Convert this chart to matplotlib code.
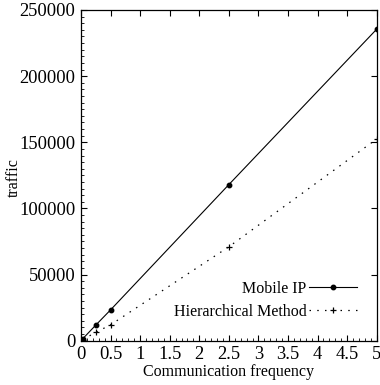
import matplotlib
matplotlib.use("Agg")
import matplotlib.pyplot as plt
from matplotlib.ticker import MultipleLocator

plt.rcParams['font.family'] = ['Liberation Serif', 'DejaVu Serif']

freq = [0.03, 0.25, 0.5, 2.5, 5]
mobile_ip = [1500, 11800, 23300, 118000, 235500]
hierarchical = [900, 6300, 12000, 71000, 152500]

x_ticks = [0, 0.5, 1, 1.5, 2, 2.5, 3, 3.5, 4, 4.5, 5]
x_ticklabels = ['0', '0.5', '1', '1.5', '2', '2.5', '3', '3.5', '4', '4.5', '5']
y_ticks = [0, 50000, 100000, 150000, 200000, 250000]

fs_tick = 13.3
fs_lab = 11.5

fig = plt.figure(figsize=(3.8, 3.85), dpi=100)
ax = fig.add_axes([81/380, 1-340.7/385, (376.7-81)/380, (340.7-10)/385])

ax.plot(freq, mobile_ip, color='black', lw=0.8, marker='o', ms=3.2,
        label='Mobile IP')
ax.plot(freq, hierarchical, color='black', lw=0.9, marker='+', ms=4,
        mew=0.9, linestyle=(0, (1.2, 5.0)), label='Hierarchical Method')

ax.set_xlim(0, 5)
ax.set_ylim(0, 250000)
ax.set_xticks(x_ticks)
ax.set_xticklabels(x_ticklabels)
ax.set_yticks(y_ticks)
ax.xaxis.set_minor_locator(MultipleLocator(0.1))
ax.yaxis.set_minor_locator(MultipleLocator(5000))
ax.tick_params(which='major', direction='in', length=4, width=0.8,
               top=True, right=True, labelsize=fs_tick, pad=4)
ax.tick_params(which='minor', direction='in', length=2, width=0.6,
               top=False, right=False)
for s in ax.spines.values():
    s.set_linewidth(0.9)

ax.set_xlabel('Communication frequency', fontsize=fs_lab)
ax.set_ylabel('traffic', fontsize=fs_lab)
ax.xaxis.set_label_coords(0.5, -(364 - 340.7) / 330.7)
ax.yaxis.set_label_coords((22 - 81) / 295.7, (340.7 - 178) / 330.7)

leg = ax.legend(loc='lower right', bbox_to_anchor=((357 - 81) / 295.7, (340.7 - 320) / 330.7),
                frameon=False, markerfirst=False, fontsize=fs_lab,
                handlelength=3.0, handletextpad=0.15, labelspacing=0.45,
                borderaxespad=0, borderpad=0)

fig.savefig('out.png', dpi=100)
